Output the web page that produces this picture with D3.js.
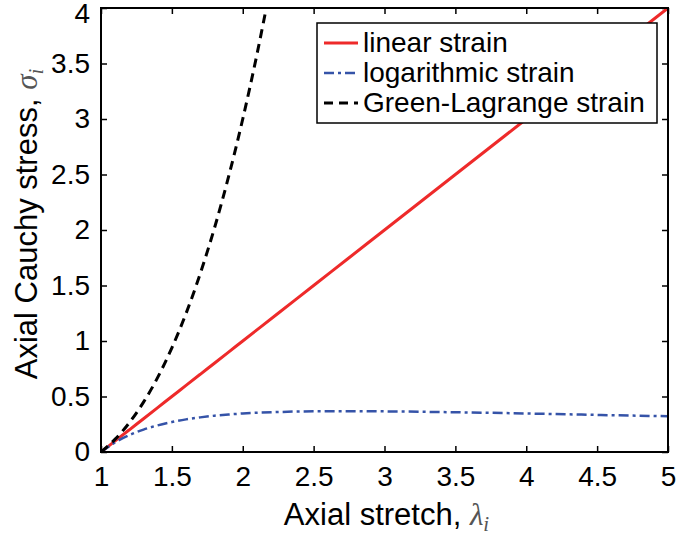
<!DOCTYPE html>
<html>
<head>
<meta charset="utf-8">
<script src="https://cdn.jsdelivr.net/npm/d3@7"></script>
<style>
  body { margin: 0; background: #fff; }
  text { font-family: "Liberation Sans", Arial, sans-serif; }
</style>
</head>
<body>
<div id="chart"></div>
<script>
// values
var stretch    = [1.0, 1.1, 1.2, 1.3, 1.4, 1.5, 1.6, 1.7, 1.8, 1.9, 2.0, 2.25, 2.5, 2.75, 3.0, 3.5, 4.0, 4.5, 5.0];
var linearVals = [0.0, 0.1, 0.2, 0.3, 0.4, 0.5, 0.6, 0.7, 0.8, 0.9, 1.0, 1.25, 1.5, 1.75, 2.0, 2.5, 3.0, 3.5, 4.0];
var logVals    = [0.0, 0.087, 0.152, 0.202, 0.240, 0.270, 0.294, 0.312, 0.327, 0.338, 0.347, 0.360, 0.367, 0.368, 0.366, 0.358, 0.347, 0.334, 0.322];
var glStretch  = [1.0, 1.1, 1.2, 1.3, 1.4, 1.5, 1.6, 1.7, 1.8, 1.9, 2.0, 2.1, 2.2];
var glVals     = [0.0, 0.116, 0.264, 0.449, 0.672, 0.938, 1.248, 1.607, 2.016, 2.480, 3.0, 3.581, 4.224];
var xTicks = [1, 1.5, 2, 2.5, 3, 3.5, 4, 4.5, 5];
var yTicks = [0, 0.5, 1, 1.5, 2, 2.5, 3, 3.5, 4];
var seriesNames = ["linear strain", "logarithmic strain", "Green-Lagrange strain"];

var width = 679, height = 535;
var margin = {top: 8, right: 11, bottom: 83, left: 101};
var w = width - margin.left - margin.right,
    h = height - margin.top - margin.bottom;

var svg = d3.select("#chart").append("svg")
    .attr("width", width)
    .attr("height", height);

var g = svg.append("g")
    .attr("transform", "translate(" + margin.left + "," + margin.top + ")");

var x = d3.scaleLinear().domain([1, 5]).range([0, w]);
var y = d3.scaleLinear().domain([0, 4]).range([h, 0]);

svg.append("defs").append("clipPath").attr("id", "clip")
  .append("rect").attr("x", 0).attr("y", 0).attr("width", w).attr("height", h);

// axes: ticks inside, on all four sides
var tickLen = 6;
function styleAxis(sel) {
  sel.select(".domain").remove();
  sel.selectAll("line").attr("stroke", "#000").attr("stroke-width", 1.5);
}
g.append("g").attr("transform", "translate(0," + h + ")")
  .call(d3.axisBottom(x).tickValues(xTicks).tickSize(-tickLen).tickPadding(14).tickFormat(d3.format("")))
  .call(styleAxis)
  .selectAll("text").attr("font-size", 28).attr("fill", "#000")
  .attr("font-family", "Liberation Sans, Arial, sans-serif");
g.append("g")
  .call(d3.axisTop(x).tickValues(xTicks).tickSize(-tickLen).tickFormat(""))
  .call(styleAxis);
g.append("g")
  .call(d3.axisLeft(y).tickValues(yTicks).tickSize(-tickLen).tickPadding(11).tickFormat(d3.format("")))
  .call(styleAxis)
  .selectAll("text").attr("font-size", 28).attr("fill", "#000")
  .attr("font-family", "Liberation Sans, Arial, sans-serif")
  .attr("dy", function(d) { return d === 4 ? "0.52em" : "0.32em"; });
g.append("g").attr("transform", "translate(" + w + ",0)")
  .call(d3.axisRight(y).tickValues(yTicks).tickSize(-tickLen).tickFormat(""))
  .call(styleAxis);

// lines
var plot = g.append("g").attr("clip-path", "url(#clip)");

var line = d3.line()
  .x(function(d) { return x(d[0]); })
  .y(function(d) { return y(d[1]); })
  .curve(d3.curveMonotoneX);

var linData = stretch.map(function(s, i) { return [s, linearVals[i]]; });
var logData = stretch.map(function(s, i) { return [s, logVals[i]]; });
var glData  = glStretch.map(function(s, i) { return [s, glVals[i]]; });

plot.append("path").datum(linData)
  .attr("d", line).attr("fill", "none")
  .attr("stroke", "#ee2a2a").attr("stroke-width", 3);
plot.append("path").datum(logData)
  .attr("d", line).attr("fill", "none")
  .attr("stroke", "#3553a8").attr("stroke-width", 2.5)
  .attr("stroke-dasharray", "10,4,3,4");
plot.append("path").datum(glData)
  .attr("d", line).attr("fill", "none")
  .attr("stroke", "#000").attr("stroke-width", 3)
  .attr("stroke-dasharray", "9,6");

// frame
g.append("rect")
  .attr("x", 0).attr("y", 0).attr("width", w).attr("height", h)
  .attr("fill", "none").attr("stroke", "#000").attr("stroke-width", 2);

// axis titles
var xt = svg.append("text")
  .attr("x", margin.left + w / 2 + 2)
  .attr("y", 525)
  .attr("text-anchor", "middle")
  .attr("font-size", 31)
  .attr("fill", "#000");
xt.append("tspan").text("Axial stretch, ");
xt.append("tspan").text("λ").attr("font-family", "Liberation Serif, serif").attr("font-style", "italic").attr("fill", "#555");
xt.append("tspan").text("i").attr("font-family", "Liberation Serif, serif").attr("font-style", "italic").attr("fill", "#555")
  .attr("font-size", 21).attr("dy", 6);

var yt = svg.append("text")
  .attr("transform", "translate(37," + 224 + ") rotate(-90)")
  .attr("text-anchor", "middle")
  .attr("font-size", 31)
  .attr("fill", "#000");
yt.append("tspan").text("Axial Cauchy stress, ");
yt.append("tspan").text("σ").attr("font-family", "Liberation Serif, serif").attr("font-style", "italic").attr("fill", "#555");
yt.append("tspan").text("i").attr("font-family", "Liberation Serif, serif").attr("font-style", "italic").attr("fill", "#555")
  .attr("font-size", 21).attr("dy", 6);

// legend
var legend = svg.append("g");
legend.append("rect")
  .attr("x", 317).attr("y", 23).attr("width", 340).attr("height", 100)
  .attr("fill", "#fff").attr("stroke", "#000").attr("stroke-width", 1.5);

var legStyles = [
  {stroke: "#ee2a2a", width: 3, dash: null},
  {stroke: "#3553a8", width: 2.5, dash: "10,4,3,4"},
  {stroke: "#000", width: 3, dash: "9,6"}
];
seriesNames.forEach(function(name, i) {
  var by = 52 + i * 30;
  legend.append("line")
    .attr("x1", 324).attr("x2", 358)
    .attr("y1", by - 9).attr("y2", by - 9)
    .attr("stroke", legStyles[i].stroke)
    .attr("stroke-width", legStyles[i].width)
    .attr("stroke-dasharray", legStyles[i].dash);
  legend.append("text")
    .attr("x", 363).attr("y", by)
    .attr("font-size", 28)
    .attr("fill", "#000")
    .text(name);
});
</script>
</body>
</html>
